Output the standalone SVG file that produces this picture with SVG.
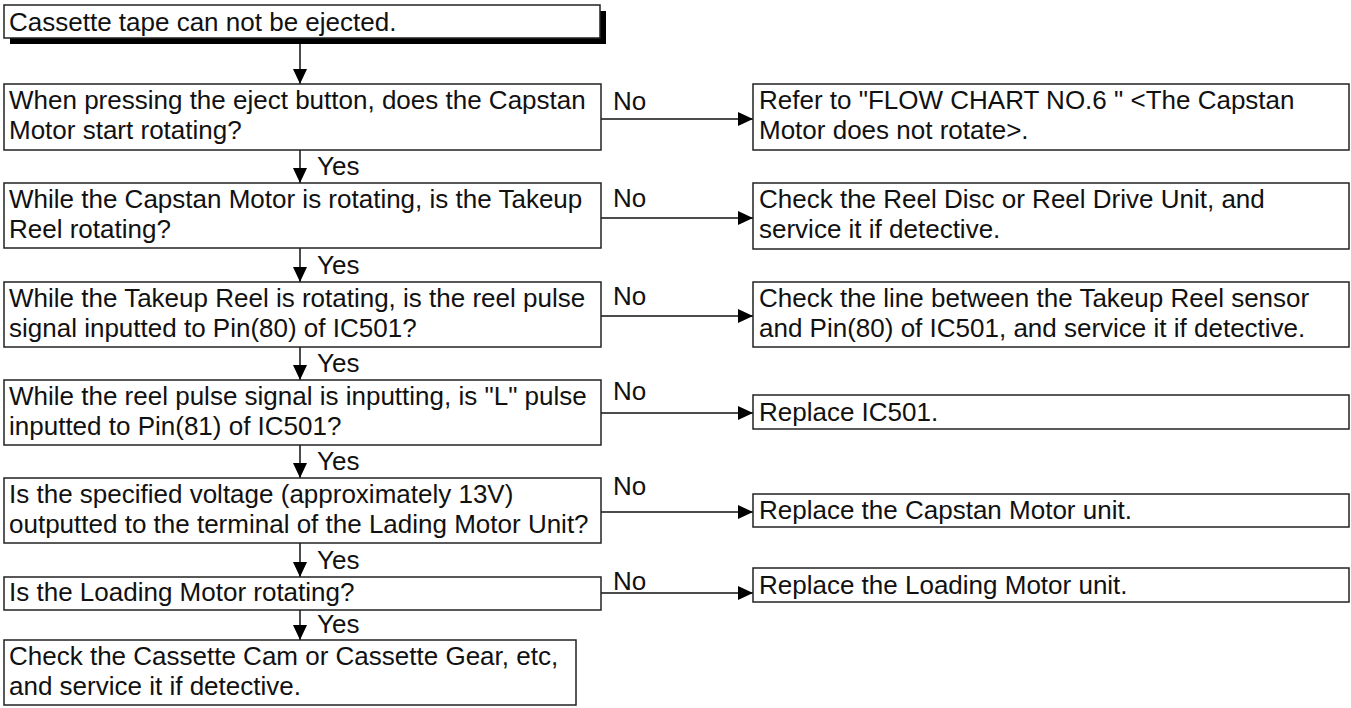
<svg xmlns="http://www.w3.org/2000/svg" width="1351" height="708" viewBox="0 0 1351 708">
<defs>
<marker id="ah" markerUnits="userSpaceOnUse" viewBox="0 0 15 14" refX="15" refY="7" markerWidth="15" markerHeight="14" orient="auto">
<path d="M0,0 L15,7 L0,14 Z" fill="#000"/>
</marker>
</defs>
<style>
.box{fill:#fff;stroke:#222;stroke-width:1.5}
.t{font-family:"Liberation Sans",Arial,sans-serif;font-size:26px;fill:#111}
.c{stroke:#111;stroke-width:1.5;fill:none;marker-end:url(#ah)}
</style>
<rect width="1351" height="708" fill="#fff"/>
<g id="connectors">
<path class="c" d="M300,44 V84"/>
<path class="c" d="M300,150 V183"/>
<path class="c" d="M300,248 V282"/>
<path class="c" d="M300,347 V380"/>
<path class="c" d="M300,445 V478"/>
<path class="c" d="M300,543 V577"/>
<path class="c" d="M300,610 V640"/>
<path class="c" d="M601,119 H753"/>
<path class="c" d="M601,218 H753"/>
<path class="c" d="M601,316 H753"/>
<path class="c" d="M601,413 H753"/>
<path class="c" d="M601,512 H753"/>
<path class="c" d="M601,593 H753"/>
<text class="t" x="317" y="175">Yes</text>
<text class="t" x="317" y="274">Yes</text>
<text class="t" x="317" y="372">Yes</text>
<text class="t" x="317" y="470">Yes</text>
<text class="t" x="317" y="569">Yes</text>
<text class="t" x="317" y="633">Yes</text>
<text class="t" x="613" y="110">No</text>
<text class="t" x="613" y="207">No</text>
<text class="t" x="613" y="305">No</text>
<text class="t" x="613" y="400">No</text>
<text class="t" x="613" y="495">No</text>
<text class="t" x="613" y="590">No</text>
</g>
<g id="start">
<rect x="10" y="11" width="596" height="33" fill="#000"/>
<rect class="box" x="4" y="5" width="596" height="33"/>
<text class="t" x="9" y="31">Cassette tape can not be ejected.</text>
</g>
<g id="q1">
<rect class="box" x="4" y="84" width="597" height="66"/>
<text class="t" x="9" y="109">When pressing the eject button, does the Capstan</text>
<text class="t" x="9" y="139">Motor start rotating?</text>
</g>
<g id="r1">
<rect class="box" x="753" y="84" width="596" height="66"/>
<text class="t" x="759" y="109">Refer to "FLOW CHART NO.6 " &lt;The Capstan</text>
<text class="t" x="759" y="139">Motor does not rotate&gt;.</text>
</g>
<g id="q2">
<rect class="box" x="4" y="183" width="597" height="65"/>
<text class="t" x="9" y="208">While the Capstan Motor is rotating, is the Takeup</text>
<text class="t" x="9" y="238">Reel rotating?</text>
</g>
<g id="r2">
<rect class="box" x="753" y="183" width="596" height="66"/>
<text class="t" x="759" y="208">Check the Reel Disc or Reel Drive Unit, and</text>
<text class="t" x="759" y="238">service it if detective.</text>
</g>
<g id="q3">
<rect class="box" x="4" y="282" width="597" height="65"/>
<text class="t" x="9" y="307">While the Takeup Reel is rotating, is the reel pulse</text>
<text class="t" x="9" y="337">signal inputted to Pin(80) of IC501?</text>
</g>
<g id="r3">
<rect class="box" x="753" y="282" width="596" height="65"/>
<text class="t" x="759" y="307">Check the line between the Takeup Reel sensor</text>
<text class="t" x="759" y="337">and Pin(80) of IC501, and service it if detective.</text>
</g>
<g id="q4">
<rect class="box" x="4" y="380" width="597" height="65"/>
<text class="t" x="9" y="405">While the reel pulse signal is inputting, is "L" pulse</text>
<text class="t" x="9" y="435">inputted to Pin(81) of IC501?</text>
</g>
<g id="r4">
<rect class="box" x="753" y="395" width="596" height="34"/>
<text class="t" x="759" y="421">Replace IC501.</text>
</g>
<g id="q5">
<rect class="box" x="4" y="478" width="597" height="65"/>
<text class="t" x="9" y="503">Is the specified voltage (approximately 13V)</text>
<text class="t" x="9" y="533">outputted to the terminal of the Lading Motor Unit?</text>
</g>
<g id="r5">
<rect class="box" x="753" y="494" width="596" height="33"/>
<text class="t" x="759" y="519">Replace the Capstan Motor unit.</text>
</g>
<g id="q6">
<rect class="box" x="4" y="577" width="597" height="33"/>
<text class="t" x="9" y="601">Is the Loading Motor rotating?</text>
</g>
<g id="r6">
<rect class="box" x="753" y="568" width="596" height="34"/>
<text class="t" x="759" y="594">Replace the Loading Motor unit.</text>
</g>
<g id="end">
<rect class="box" x="4" y="640" width="572" height="65"/>
<text class="t" x="9" y="665">Check the Cassette Cam or Cassette Gear, etc,</text>
<text class="t" x="9" y="695">and service it if detective.</text>
</g>
</svg>
